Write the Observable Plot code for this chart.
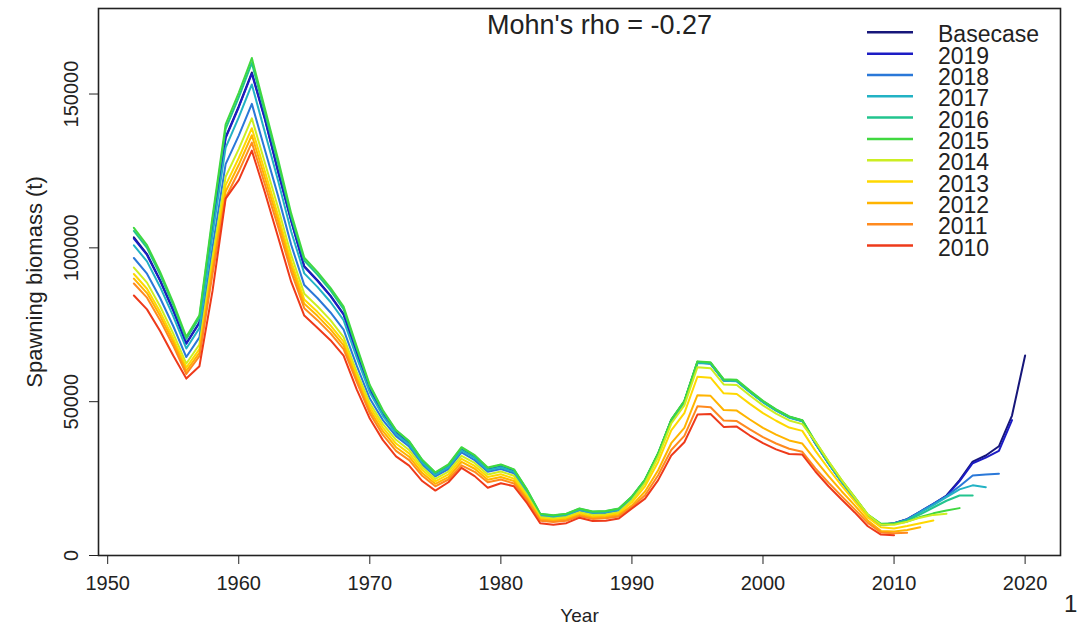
<!DOCTYPE html>
<html>
<head>
<meta charset="utf-8">
<script src="https://cdn.jsdelivr.net/npm/d3@7"></script>
<script src="https://cdn.jsdelivr.net/npm/@observablehq/plot@0.6"></script>
<style>
  html, body { margin: 0; padding: 0; background: #fff; }
  #chart { width: 1079px; height: 628px; overflow: hidden; }
</style>
</head>
<body>
<div id="chart"></div>
<script>
// ---------------- DATA ----------------
const startYear = 1952;

const basecase = [103400,98000,89500,79800,69000,75800,107000,136000,146000,157000,
  142000,125000,109000,94000,89500,84500,78500,66000,54000,46000,
  40000,36500,30500,26500,29000,34500,32000,28000,29000,27500,
  21000,13300,12800,13300,15000,14000,14200,15000,19000,24500,
  33000,44000,50000,62800,62500,57000,56800,53300,50000,47300,
  45000,43800,36500,30000,24000,18500,13000,10000,10500,11800,
  14300,16800,19500,24500,30500,32500,35500,45500,65000];

const retro2019 = [103000,97700,89300,79600,68800,75600,106700,135700,145700,156600,
  141700,124700,108700,93800,89300,84300,78300,65800,53900,45900,
  39900,36400,30400,26400,28900,34400,31900,27900,28900,27400,
  20900,13200,12700,13200,14900,13900,14100,14900,18900,24400,
  32900,43900,49900,62700,62400,56900,56700,53200,49900,47200,
  44900,43700,36400,29900,23900,18400,12900,9900,10400,11700,
  14200,16700,19300,24200,30000,31800,34000,44000];

const retro2018 = [96700,91600,83700,74600,64500,70900,100000,127200,136500,146800,
  131800,116900,101000,87900,83700,79000,73400,61700,51000,44000,
  38800,35400,29600,25700,28100,33500,31000,27200,28100,26700,
  20400,12900,12400,12900,14600,13600,13800,14600,18600,24200,
  32800,43800,50000,62800,62500,57000,56800,53300,50000,47300,
  45000,43800,36500,30000,24000,18500,13000,10000,10500,11800,
  14300,16800,19300,22500,26000,26300,26600];

const retro2017 = [100800,95600,87300,77800,67300,73900,104300,132600,142400,153100,
  137500,121900,105300,91700,87300,82400,76500,64400,53000,45400,
  39600,36100,30200,26200,28700,34200,31700,27700,28700,27200,
  20800,13200,12700,13200,14900,13900,14100,14900,18900,24400,
  32900,43800,49800,62600,62300,56800,56600,53100,49800,47100,
  44800,43600,36400,29900,23900,18400,12900,9900,10300,11500,
  14000,16400,19000,21500,22800,22200];

const retro2016 = [105500,100000,91300,81400,70400,77300,109100,138700,148900,160100,
  143800,127500,110200,95900,91300,86200,80100,67300,55000,46800,
  40600,37000,31000,26900,29400,35000,32500,28400,29400,27900,
  21300,13500,13000,13500,15200,14200,14400,15200,19100,24600,
  33100,44000,50000,63000,62600,57100,56900,53400,50100,47400,
  45100,43900,36800,30300,24300,18800,13200,10200,10400,11400,
  13400,15600,17800,19500,19500];

const retro2015 = [106500,100900,92200,82200,71100,78100,110200,140100,150400,161700,
  145200,128800,111200,96800,92200,87000,80900,68000,55400,47200,
  40800,37200,31100,27000,29600,35200,32600,28600,29600,28000,
  21400,13600,13100,13600,15300,14300,14500,15300,19200,24700,
  33300,44200,50300,63100,62800,57300,57100,53600,50300,47500,
  45200,44000,37000,30500,24500,19000,13300,10300,10300,11000,
  12500,13700,14600,15400];

const retro2014 = [93600,88700,81000,72200,62400,68600,96800,123100,132100,142100,
  127600,113100,97700,85100,81000,76500,71000,59700,49500,42700,
  37600,34300,28700,24900,27300,32400,30100,26300,27300,25900,
  19700,12500,12000,12500,14100,13200,13300,14100,18000,23500,
  32000,42900,48800,61200,60900,55600,55400,52000,48800,46100,
  43900,42700,37000,30600,24500,18900,13300,10000,10000,11000,
  12300,13200,13600];

const retro2013 = [91500,86700,79200,70600,61100,67100,94700,120400,129200,138900,
  124800,110600,95600,83200,79200,74800,69500,58400,48300,41600,
  36400,33200,27800,24100,26400,31400,29100,25500,26400,25000,
  19100,12100,11600,12100,13700,12700,12900,13700,17300,22500,
  30400,40700,46300,58100,57800,52700,52500,49300,46300,43800,
  41600,40500,34000,28200,22700,17600,12400,9200,8800,9600,
  10500,11400];

const retro2012 = [90000,85300,77900,69400,60000,65900,93100,118300,127000,136600,
  122700,108800,94000,81800,77900,73500,68300,57400,47200,40400,
  35200,32100,26800,23300,25500,30400,28200,24600,25500,24200,
  18500,11700,11300,11700,13200,12300,12500,13200,16300,20800,
  27700,36500,41500,52100,51900,47300,47100,44200,41500,39300,
  37400,36400,31000,25800,20900,16300,11400,8000,7800,8300,
  9200];

const retro2011 = [88400,83800,76500,68200,59000,64800,91500,116300,124800,134200,
  120600,106900,92300,80400,76500,72200,67100,56400,46200,39200,
  34000,31000,25900,22500,24700,29300,27200,23800,24700,23400,
  17900,11300,10900,11300,12800,11900,12100,12700,15800,19600,
  26100,34300,38900,48500,48200,43900,43700,41000,38500,36400,
  34700,33700,28300,23700,19300,15000,10600,7500,7200,7400];

const retro2010 = [84500,80000,73000,65000,57500,61500,86000,116000,122000,131600,
  118000,103500,89000,78000,74000,70000,65000,54000,44500,37500,
  32200,29200,24200,21100,23800,28500,25800,22000,23500,22500,
  17000,10500,10000,10500,12300,11200,11300,12000,15300,18500,
  24500,32500,36800,45800,46000,41800,41900,39000,36500,34500,
  33000,32800,27300,22500,18200,14000,9500,6800,6600];

const seriesNames  = ["Basecase","2019","2018","2017","2016","2015","2014","2013","2012","2011","2010"];
const seriesColors = ["#16167a","#1c1cc4","#2a78d8","#22b2c4","#22c48e","#40d840","#ccee22","#ffd800","#ffb400","#ff8a1e","#ee3a1a"];
const seriesValues = [basecase, retro2019, retro2018, retro2017, retro2016, retro2015,
                      retro2014, retro2013, retro2012, retro2011, retro2010];

const xTicks = [1950,1960,1970,1980,1990,2000,2010,2020];
const yTicks = [0,50000,100000,150000];
const titleText = "Mohn's rho = -0.27";
const xLabel = "Year";
const yLabel = "Spawning biomass (t)";

// ---------------- BUILD ----------------
const data = seriesNames.flatMap((name, k) =>
  seriesValues[k].map((v, i) => ({series: name, year: startYear + i, value: v})));

const font = "'Liberation Sans', Arial, Helvetica, sans-serif";
const ink = "#222";

const chart = Plot.plot({
  width: 1079,
  height: 628,
  marginTop: 8,
  marginBottom: 73,
  marginLeft: 98,
  marginRight: 19,
  style: {fontFamily: font, background: "#fff", color: ink},
  x: {domain: [1949.3, 2022.7]},
  y: {domain: [0, 177800]},
  color: {domain: seriesNames, range: seriesColors},
  marks: [
    Plot.line(data, {x: "year", y: "value", z: "series", stroke: "series", strokeWidth: 2}),
    Plot.frame({stroke: ink, strokeWidth: 1.6}),
    Plot.axisX({ticks: xTicks, tickSize: 9, tickPadding: 11, fontSize: 20,
                tickFormat: d => String(d), label: null, stroke: ink, fill: ink}),
    Plot.axisY({ticks: yTicks, tickSize: 9, tickFormat: () => "", label: null, stroke: ink}),
    Plot.text(yTicks, {y: d => d, text: d => String(d), frameAnchor: "left", dx: -27,
                       textAnchor: "middle", rotate: -90, fontSize: 20, fill: ink}),
    Plot.text([yLabel], {frameAnchor: "left", dx: -64, textAnchor: "middle", rotate: -90,
                         fontSize: 22, fill: ink}),
    Plot.text([xLabel], {frameAnchor: "bottom", dy: 53, lineAnchor: "top", fontSize: 19, fill: ink}),
    Plot.text([titleText], {frameAnchor: "top", dx: 20, dy: 6, lineAnchor: "top", fontSize: 27, fill: ink})
  ]
});

// Legend (top right, inside the box)
const svg = d3.select(chart);
const lg = svg.append("g").attr("font-family", font).attr("font-size", 23)
  .attr("fill", ink).attr("text-anchor", "start");
seriesNames.forEach((name, i) => {
  const y = 32.3 + i * 21.33;
  lg.append("line").attr("x1", 867).attr("x2", 913).attr("y1", y).attr("y2", y)
    .attr("stroke", seriesColors[i]).attr("stroke-width", 2.5);
  lg.append("text").attr("x", 938).attr("y", y + 10).text(name);
});
// stray page number at the bottom right
svg.append("text").attr("x", 1064).attr("y", 612).attr("text-anchor", "start")
  .attr("font-family", font).attr("font-size", 24).attr("fill", ink).text("1");

document.getElementById("chart").appendChild(chart);
</script>
</body>
</html>
